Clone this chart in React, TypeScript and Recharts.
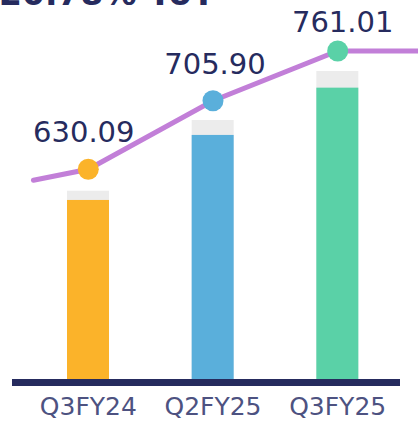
import {
  ComposedChart,
  Bar,
  Line,
  XAxis,
  YAxis,
  LabelList,
} from "recharts";

// values
const quarters = ["Q3FY24", "Q2FY25", "Q3FY25"];
const revenue = [630.09, 705.9, 761.01];
const shadowTop = [640.9, 723.3, 780.4]; // top of the light grey cap on each bar
const tailX = [-0.44, 2.7]; // where the trend line starts / runs off the page
const tailValue = [618, 761.01];
const headline = "20.78% YoY";

const COLORS = ["#fbb32a", "#5aafdb", "#5ad1a7"];
const NAVY = "#262b5e";
const PURPLE = "#c27fd8";
const FONT = "'DejaVu Sans', sans-serif";
// label nudges (dx, lift above the dot) per quarter
const LABEL_DX = [-4.5, 2, 5];
const LABEL_LIFT = [27, 27, 18.5];

const barData = quarters.map((q, i) => ({
  name: q,
  value: revenue[i],
  shadow: shadowTop[i],
}));

const lineData = [
  { x: tailX[0], y: tailValue[0], tag: "" },
  ...revenue.map((v, i) => ({ x: i, y: v, tag: v.toFixed(2), idx: i })),
  { x: tailX[1], y: tailValue[1], tag: "" },
];

function Dot(props: any) {
  const { cx, cy, payload, index } = props;
  if (payload.idx === undefined) return <g key={`d${index}`} />;
  return <circle key={`d${index}`} cx={cx} cy={cy} r={10.5} fill={COLORS[payload.idx]} />;
}

function ValueLabel(props: any) {
  const { x, y, value, index } = props;
  const i = lineData[index]?.idx;
  if (i === undefined || !value) return null;
  return (
    <text
      x={x + LABEL_DX[i]}
      y={y - LABEL_LIFT[i]}
      textAnchor="middle"
      fill={NAVY}
      fontSize={29}
      fontFamily={FONT}
    >
      {value}
    </text>
  );
}

export default function App() {
  return (
    <div style={{ position: "absolute", left: 0, top: 0, width: 418, height: 422, overflow: "hidden" }}>
      <svg width={418} height={20} style={{ position: "absolute", left: 0, top: 0 }}>
        <text x={-1} y={5} fontFamily={FONT} fontSize={33} fontWeight={700} fill={NAVY}>
          {headline}
        </text>
      </svg>
      <ComposedChart
        width={418}
        height={422}
        data={barData}
        margin={{ top: 0, right: 0, bottom: 0, left: 0 }}
        barGap={-42}
      >
        <YAxis yAxisId="bar" hide domain={[417.3, 863.2]} allowDataOverflow />
        <YAxis yAxisId="line" hide domain={[394.1, 817.4]} allowDataOverflow />
        <XAxis
          xAxisId="num"
          type="number"
          dataKey="x"
          hide
          domain={[-0.708, 2.644]}
          allowDataOverflow
        />
        <Bar
          xAxisId="cat"
          yAxisId="bar"
          dataKey="shadow"
          fill="#ececec"
          barSize={42}
          isAnimationActive={false}
        />
        <Bar
          xAxisId="cat"
          yAxisId="bar"
          dataKey="value"
          barSize={42}
          isAnimationActive={false}
          shape={(p: any) => (
            <rect x={p.x} y={p.y} width={p.width} height={p.height} fill={COLORS[p.index]} />
          )}
        />
        <XAxis
          xAxisId="cat"
          dataKey="name"
          height={39.5}
          padding={{ left: 26, right: 18 }}
          tickLine={false}
          tickMargin={9}
          axisLine={{ stroke: NAVY, strokeWidth: 7, strokeDasharray: "0 12 388 1000" }}
          tick={{ fill: "#4d5281", fontSize: 25, fontFamily: FONT }}
        />
        <Line
          xAxisId="num"
          yAxisId="line"
          data={lineData}
          dataKey="y"
          type="linear"
          stroke={PURPLE}
          strokeWidth={5}
          strokeLinecap="round"
          dot={Dot}
          activeDot={false}
          isAnimationActive={false}
        >
          <LabelList dataKey="tag" content={ValueLabel} />
        </Line>
      </ComposedChart>
    </div>
  );
}
